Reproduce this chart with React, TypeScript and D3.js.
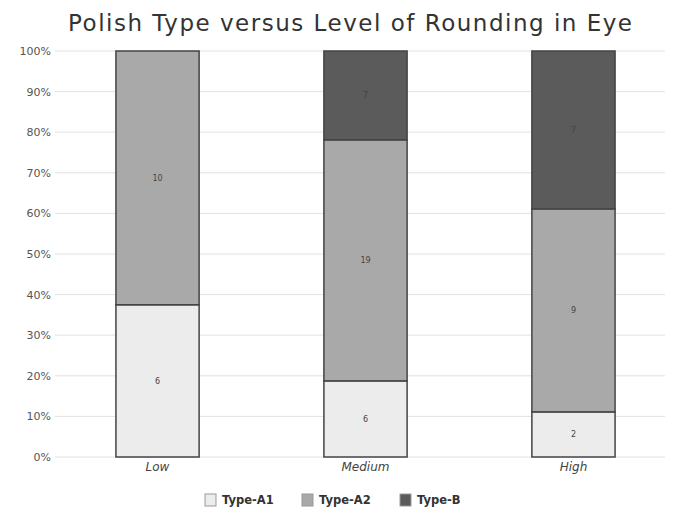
import React from "react";
import * as d3 from "d3";

const categories = ["Low", "Medium", "High"];
const seriesNames = ["Type-A1", "Type-A2", "Type-B"];
const typeA1 = [6, 6, 2];
const typeA2 = [10, 19, 9];
const typeB = [0, 7, 7];
const colors = ["#ececec", "#a9a9a9", "#5b5b5b"];
const yTicks = [0, 0.1, 0.2, 0.3, 0.4, 0.5, 0.6, 0.7, 0.8, 0.9, 1];

export default function App() {
  const W = 688, H = 516;
  const left = 55, right = 676, top = 51, bottom = 457;
  const x = d3.scaleBand<string>().domain(categories).range([left, right]).paddingInner(0.6).paddingOuter(0.293);
  const y = d3.scaleLinear().domain([0, 1]).range([bottom, top]);
  const rows = categories.map((c, i) => {
    const vals = [typeA1[i], typeA2[i], typeB[i]];
    const tot = d3.sum(vals);
    return { c, vals, tot };
  });
  const stackData = rows.map((r) => {
    const o: any = { c: r.c };
    seriesNames.forEach((s, j) => (o[s] = r.vals[j] / r.tot));
    return o;
  });
  const stack = d3.stack<any>().keys(seriesNames)(stackData);
  const fmt = d3.format(".0%");

  return (
    <svg width={W} height={H} style={{ position: "absolute", left: 0, top: 0, background: "#fff" }}>
      <text x={68} y={31} textLength={564} lengthAdjust="spacing" fontFamily="'DejaVu Sans'" fontSize={23} fill="#333">
        Polish Type versus Level of Rounding in Eye
      </text>
      {yTicks.map((t) => (
        <g key={t}>
          <line x1={left} x2={665} y1={y(t)} y2={y(t)} stroke="#e2e2e2" strokeWidth={1} />
          <text x={51} y={y(t) + 4} textAnchor="end" fontFamily="'DejaVu Sans'" fontSize={11} fill="#555">
            {fmt(t)}
          </text>
        </g>
      ))}
      {stack.map((layer, j) =>
        layer.map((d, i) => {
          const v = rows[i].vals[j];
          if (v === 0) return null;
          const x0 = x(categories[i])!;
          const y0 = y(d[1]);
          const h = y(d[0]) - y(d[1]);
          return (
            <g key={j + "-" + i}>
              <rect x={x0} y={y0} width={x.bandwidth()} height={h} fill={colors[j]} stroke="#444" strokeWidth={1.5} />
              <text x={x0 + x.bandwidth() / 2} y={y0 + h / 2 + 3} textAnchor="middle" fontFamily="'DejaVu Sans'" fontSize={8} fill="#444">
                {v}
              </text>
            </g>
          );
        })
      )}
      {categories.map((c) => (
        <text key={c} x={x(c)! + x.bandwidth() / 2} y={471} textAnchor="middle" fontFamily="'DejaVu Sans'" fontStyle="italic" fontSize={12} fill="#444">
          {c}
        </text>
      ))}
      {seriesNames.map((s, j) => {
        const lx = [205, 302, 400][j];
        return (
          <g key={s}>
            <rect x={lx} y={494} width={11} height={12} fill={colors[j]} stroke="#999" strokeWidth={1} />
            <text x={lx + 17} y={504} fontFamily="'DejaVu Sans'" fontWeight="bold" fontSize={11.5} fill="#333">
              {s}
            </text>
          </g>
        );
      })}
    </svg>
  );
}
